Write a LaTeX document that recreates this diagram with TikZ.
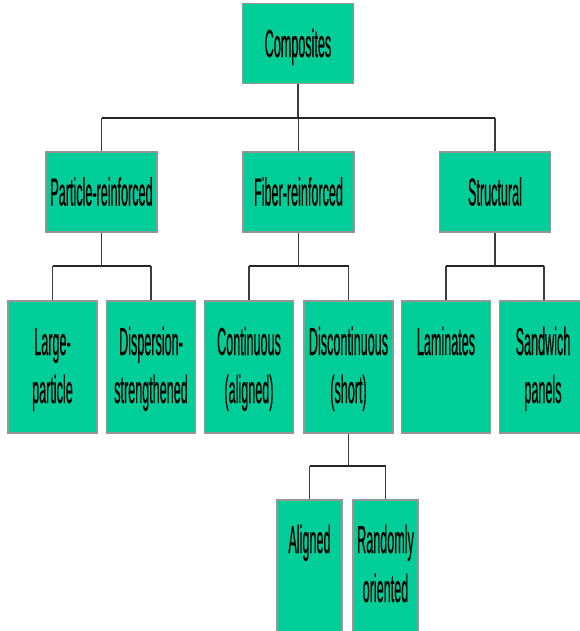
\documentclass[tikz,border=0pt]{standalone}
\usepackage{fontspec}
\usepackage{graphicx}
\setmainfont{Liberation Sans}
\newfontfamily\lblfont{Liberation Sans}[FakeBold=0.6]
\definecolor{boxgreen}{RGB}{0,206,153}
\definecolor{boxedge}{RGB}{150,150,150}
\definecolor{linegray}{RGB}{60,60,60}
\newcommand\tx[1]{\scalebox{1}[3.1]{#1}}
\tikzset{
  box/.style={draw=boxedge, line width=1.2pt, fill=boxgreen, inner sep=0pt},
  bigbox/.style={box, minimum width=111pt, minimum height=80pt},
  midbox/.style={box, minimum width=89pt, minimum height=132pt},
  smallbox/.style={box, minimum width=65pt, minimum height=132pt},
  lbl/.style={anchor=base, inner sep=0pt, font=\lblfont\fontsize{12.6}{14}\selectfont},
  conn/.style={draw=linegray, line width=1.2pt},
  bar/.style={draw=black!85, line width=2.6pt}
}
\begin{document}
\begin{tikzpicture}[x=1pt,y=-1pt]
\useasboundingbox (0,0) rectangle (580,631);
\clip (0,0) rectangle (580,631);
% boxes
\node[bigbox] (comp) at (298,43.5) {};
\node[bigbox] (pr) at (101.5,192) {};
\node[bigbox] (fr) at (298.5,192) {};
\node[bigbox] (st) at (495,192) {};
\node[midbox] (lp) at (52.5,367) {};
\node[midbox] (db) at (151,367) {};
\node[midbox] (co) at (249,367) {};
\node[midbox] (dc) at (348.5,367) {};
\node[midbox] (la) at (446,367) {};
\node[midbox] (sw) at (544,367) {};
\node[smallbox] (al) at (309.5,566) {};
\node[smallbox] (ra) at (385.5,566) {};
% labels
\node[lbl] (compt) at (298,57) {\tx{Composites}};
\node[lbl] (prt) at (101.5,205.5) {\tx{Particle-reinforced}};
\node[lbl] (frt) at (298.5,205.5) {\tx{Fiber-reinforced}};
\node[lbl] (stt) at (495,205.5) {\tx{Structural}};
\node[lbl] (lpa) at (52.5,355) {\tx{Large-}};
\node[lbl] (lpb) at (52.5,403) {\tx{particle}};
\node[lbl] (dba) at (151,355) {\tx{Dispersion-}};
\node[lbl] (dbb) at (151,403) {\tx{strengthened}};
\node[lbl] (coa) at (249,355) {\tx{Continuous}};
\node[lbl] (cob) at (249,403) {\tx{(aligned)}};
\node[lbl] (dca) at (348.5,355) {\tx{Discontinuous}};
\node[lbl] (dcb) at (348.5,403) {\tx{(short)}};
\node[lbl] (laa) at (446,355) {\tx{Laminates}};
\node[lbl] (swa) at (543,355) {\tx{Sandwich}};
\node[lbl] (swb) at (543,403) {\tx{panels}};
\node[lbl] (ala) at (309.5,553) {\tx{Aligned}};
\node[lbl] (raa) at (385.5,553) {\tx{Randomly}};
\node[lbl] (rab) at (385.5,602) {\tx{oriented}};
% junction coordinates
\coordinate (j1) at (298,118);
\coordinate (j2) at (101.5,266);
\coordinate (j3) at (298.5,266);
\coordinate (j4) at (495,266);
\coordinate (j5) at (348.5,466);
% connectors
\draw[conn] (comp.south) -- (j1);
\draw[conn] (pr.north |- j1) -- (pr.north);
\draw[conn] (fr.north |- j1) -- (fr.north);
\draw[conn] (st.north |- j1) -- (st.north);
\draw[bar] (pr.north |- j1) -- (st.north |- j1);
\draw[conn] (pr.south) -- (j2);
\draw[conn] (lp.north |- j2) -- (lp.north);
\draw[conn] (db.north |- j2) -- (db.north);
\draw[bar] (lp.north |- j2) -- (db.north |- j2);
\draw[conn] (fr.south) -- (j3);
\draw[conn] (co.north |- j3) -- (co.north);
\draw[conn] (dc.north |- j3) -- (dc.north);
\draw[bar] (co.north |- j3) -- (dc.north |- j3);
\draw[conn] (st.south) -- (j4);
\draw[conn] (la.north |- j4) -- (la.north);
\draw[conn] (sw.north |- j4) -- (sw.north);
\draw[bar] (la.north |- j4) -- (sw.north |- j4);
\draw[conn] (dc.south) -- (j5);
\draw[conn] (al.north |- j5) -- (al.north);
\draw[conn] (ra.north |- j5) -- (ra.north);
\draw[bar] (al.north |- j5) -- (ra.north |- j5);
\end{tikzpicture}
\end{document}
